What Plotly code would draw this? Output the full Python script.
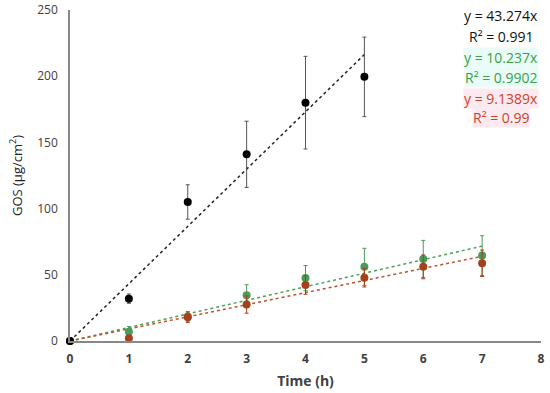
import plotly.graph_objects as go

time_black = [0, 1, 2, 3, 4, 5]
gos_black = [0, 32, 105, 141, 180, 199.5]
err_black = [0, 3.5, 13, 25, 35, 30]

time_gr = [0, 1, 2, 3, 4, 5, 6, 7]
gos_green = [0, 7, 18.5, 34.5, 47.5, 56, 62, 64.5]
err_green = [0, 4, 3.5, 8, 9.5, 14, 14, 15]
gos_red = [0, 2, 18, 27.5, 42.3, 47.8, 56, 58.7]
err_red = [0, 2, 4, 6.5, 7, 7, 9, 10]

slope_black, r2_black = 43.274, 0.991
slope_green, r2_green = 10.237, 0.9902
slope_red, r2_red = 9.1389, 0.99

black = "#000000"
green = "#4a9a5a"
red = "#a5401c"
green_line = "#4f9f55"
red_line = "#c2502a"

fig = go.Figure()

# trendlines
for xs, slope, col in [([0, 5], slope_black, "#222222"), ([0, 7], slope_green, green_line), ([0, 7], slope_red, red_line)]:
    fig.add_trace(go.Scatter(x=xs, y=[slope * v for v in xs], mode="lines",
                             line=dict(color=col, width=1.5, dash="dot"), showlegend=False, hoverinfo="skip"))

for xs, ys, es, col in [(time_gr, gos_green, err_green, green), (time_gr, gos_red, err_red, red), (time_black, gos_black, err_black, black)]:
    fig.add_trace(go.Scatter(x=xs, y=ys, mode="markers",
                             marker=dict(color=col, size=8),
                             error_y=dict(type="data", array=es, color="#555555" if col == black else col, thickness=1, width=2),
                             showlegend=False, cliponaxis=False))

ann_font = "Open Sans, Arial, sans-serif"
anns = [
    (f"y = {slope_black}x", 16, "#111111", None),
    (f"R² = {r2_black}", 36, "#111111", None),
    (f"y = {slope_green}x", 57, "#3aa04a", "#eafcf8"),
    (f"R² = {r2_green}", 77, "#3aa04a", "#eafcf8"),
    (f"y = {slope_red}x", 98, "#c8452a", "#fdeaf0"),
    (f"R² = {r2_red}", 118, "#c8452a", "#fdeaf0"),
]
for txt, ypx, col, bg in anns:
    fig.add_annotation(text=txt, xref="paper", yref="paper", x=(501 - 70) / 471,
                       y=1 - (ypx - 10) / 331, showarrow=False, xanchor="center", yanchor="middle",
                       font=dict(family=ann_font, size=14, color=col),
                       bgcolor=bg if bg else "rgba(0,0,0,0)", borderpad=0)

fig.update_layout(
    width=550, height=393,
    margin=dict(l=70, r=9, t=10, b=52, autoexpand=False),
    paper_bgcolor="white", plot_bgcolor="white",
    font=dict(family=ann_font, color="#404040", size=12),
    xaxis=dict(range=[0, 8], tickvals=list(range(9)), showgrid=False, zeroline=False,
               showline=True, linecolor="#888888", linewidth=1.5, ticks="", automargin=False,
               ticklabelstandoff=6,
               tickfont=dict(size=12, color="#404040", weight="bold"),
               title=dict(text="Time (h)", font=dict(size=14, color="#404040", weight="bold"), standoff=10)),
    yaxis=dict(range=[0, 250], tickvals=[0, 50, 100, 150, 200, 250], showgrid=False, zeroline=False,
               showline=True, linecolor="#888888", linewidth=1.5, ticks="", automargin=False,
               ticklabelstandoff=8,
               tickfont=dict(size=12, color="#404040"),
               title=dict(text="GOS (μg/cm<sup>2</sup>)", font=dict(size=13, color="#222222"), standoff=12)),
)

fig.write_html("out.html", config={"displayModeBar": False},
               post_script="document.body.style.margin='0';")
